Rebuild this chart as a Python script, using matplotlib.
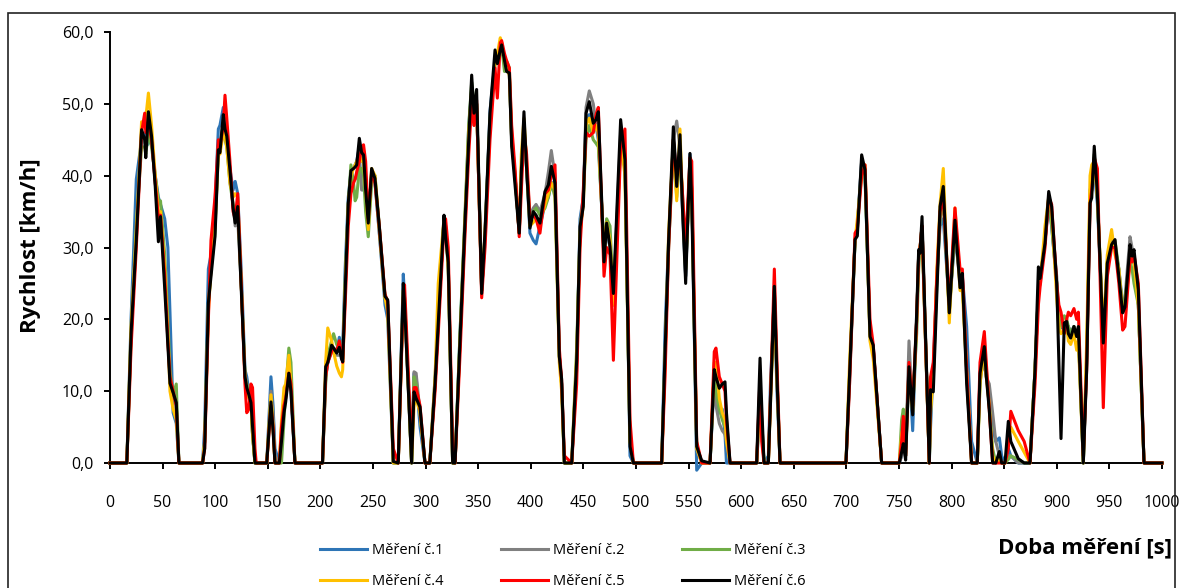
import matplotlib
matplotlib.use('Agg')
import matplotlib.pyplot as plt
from matplotlib.patches import Rectangle
from matplotlib.ticker import FuncFormatter, MultipleLocator

plt.rcParams['font.family'] = ['Open Sans', 'DejaVu Sans']

# breakpoints of the recorded speed traces [s]
time_s = [
    0, 16, 20, 25, 30, 33, 34, 36.5, 39.5, 43, 46, 48, 52, 55, 57, 60, 63, 65.5,
    88, 90, 93.5, 96, 99.8, 103, 104.5, 107.7, 109.3, 111, 114, 117, 119, 121.4, 125, 128.3, 130, 132, 134, 135.5, 137.8, 139,
    149, 153, 155, 156.8, 161, 163, 165.4, 167, 170, 172, 175.8,
    202, 205, 207, 210.7, 212.5, 215.5, 218, 220, 221.2, 223.5, 226.5, 229, 231.5, 233, 234.5, 237, 239.2, 241, 243, 245.5,
    248.7, 251.9, 256, 261.4, 264, 269.3, 274, 278.8, 280, 286.7, 289, 291, 294.7, 299.4,
    304, 309, 312, 317.5, 319, 321.5, 325.7, 328, 332.7, 337.5, 341, 343.8, 346, 348.5, 353.3, 356.5, 361.2, 366, 368.2, 371,
    372.3, 375, 377, 379.6, 381.8, 385, 389, 391, 393.5, 396, 399.2, 402.4, 405, 408.7, 413.5, 416.7, 419.5, 423, 427.1, 429.3, 431.9,
    438.9, 443.6, 446.8, 449.9, 452.5, 455.6, 459.4, 462, 464.2, 469.6, 472.1, 475.3, 478.5, 485.4, 489.5, 494.3, 497.5,
    524.4, 527.6, 531, 535.5, 538.7, 541.8, 544, 547.2, 551.3, 553, 557.7, 562.5, 570.4, 574.4, 576, 579.2, 582, 584.6, 586, 589.4,
    614.7, 617.9, 619.5, 621.7, 625.8, 628, 631.5, 634, 636.9,
    699.6, 703, 708.2, 710.4, 714.5, 717.7, 722.4, 725.5, 733.5,
    750.3, 752.5, 754.1, 756.3, 759.5, 763, 766.8, 768.7, 770, 771.9, 778.8, 780, 782.6, 786, 789, 792.1, 797.8, 803.2, 808, 810.2,
    814.3, 819, 824.4,
    827, 831.1, 833, 835.8, 839, 842, 845.4, 847.6, 850.8, 853.9, 856.3, 863.4, 869, 874.5,
    879.3, 882.5, 884.1, 888.8, 892.3, 895.1, 899.9, 902, 904, 907.1, 909.4, 911, 913.2, 916.3, 918.9, 920.5, 925.2, 928.4, 931.6, 933.2,
    935.6, 938.6, 944.2, 948, 952.1, 955.3, 959, 962.6, 964.8, 969.6, 971.5, 973.4, 977.5, 982.9, 1000,
]

# speeds [km/h] of the six runs
mereni_1 = [
    0, 0, 20, 39.5, 45, 46, 44, 44.5, 45, 40, 37, 36, 34, 30, 21, 7, 5.5, 0,
    0, 5, 27, 29, 36, 46.5, 47, 49.5, 46, 45, 41, 38, 39.2, 37.5, 26, 13, 12, 10, 9, 4, 0, 0,
    0, 12, 8, 2, 0, 3, 9, 10, 12.5, 10, 0,
    0, 12, 14, 15.5, 16, 15.5, 17.5, 16, 16, 27, 37, 40.5, 41, 41.5, 42, 44, 42, 42, 37, 33,
    40, 39, 32, 22, 20, 0, 0, 26.3, 23, 0, 12.5, 12, 5, 0,
    0, 12, 20, 34, 33, 27, 0, 0, 18, 34, 47, 52, 50, 50, 24, 31, 49, 56, 56.5, 57.5,
    57.5, 56, 55, 54, 45, 40, 32, 41, 47, 41, 32, 31, 30.5, 33, 36, 37, 39, 39, 15, 11, 0,
    0, 14, 34, 37, 48, 48.5, 46.5, 47, 45, 29, 32.5, 30, 22, 45, 43, 1, 0,
    0, 18.5, 31, 45, 40, 44, 36, 26, 43, 38, -1, 0, 0, 12, 9, 7, 7.5, 4, 0, 0,
    0, 8, 5, 0, 1, 12, 22, 10, 0,
    0, 12, 31, 33, 42, 40, 18, 16, 0,
    0, 1, 4, 1, 14, 4.5, 20, 29, 30, 33, 0, 5, 13.5, 26, 33, 34, 22, 31.5, 26, 26,
    19, 3, 0,
    12, 16, 12, 9, 5, 3, 3.5, 1, 0, 2, 1, 0, 0, 0,
    13, 24, 25, 31, 36, 33, 25, 20, 19, 18.5, 19, 19, 18, 19, 18, 18, 0, 15, 37, 38,
    41, 36, 17, 27, 31.5, 30, 27, 22, 22, 29, 28, 28, 22, 0, 0,
]
mereni_2 = [
    0, 0, 18, 33, 46, 45, 44, 47, 45, 39, 34, 35, 27, 18, 12, 9.5, 8, 0,
    0, 3, 22, 27, 33, 44, 44, 48, 46, 45, 40, 36, 33, 34, 24, 12.5, 11, 10, 9, 4, 0, 0,
    0, 10, 7, 1, 0, 3, 9, 10, 13, 11, 0,
    0, 12, 14, 16, 16, 15, 15, 15, 14.5, 25, 36, 40, 39.5, 39.5, 40, 43, 38, 38, 38, 34,
    40, 39, 32, 23, 22, 0, 0, 24, 22, 0, 12.7, 12.5, 7, 0,
    0, 11, 20, 34, 32, 28, 0, 0, 17, 33, 46, 52, 47, 50, 24, 32, 48, 56, 56, 58,
    58.5, 56, 55, 54, 45, 40, 32, 41, 47, 41, 34.5, 35.5, 36, 35, 37.5, 40.5, 43.5, 40, 15, 11, 0,
    0, 13, 33, 37, 49.5, 51.8, 50, 47, 45.5, 29, 33, 30, 23, 46, 42, 3, 0,
    0, 15, 30, 45, 47.6, 44, 37, 26, 42.5, 38, 2, 0, 0, 12, 8, 5.5, 4.5, 4, 3, 0,
    0, 10, 6, 0, 0, 10, 24, 12, 0,
    0, 11, 31, 33, 42, 41, 18, 16, 0,
    0, 1, 4, 1, 17, 7, 20, 29, 30, 33, 0, 8, 12, 26, 34, 37, 21, 32, 25, 26,
    12, 0, 0,
    12, 14, 12, 11, 7, 3, 1, 0, 0, 1, 1, 0, 0, 0,
    13, 24, 25.5, 31, 36.5, 34, 26, 20, 19, 19.5, 18.5, 19, 18, 19, 18, 18, 0, 14, 38, 39,
    42, 37, 17, 28, 31.5, 30.5, 26, 22, 23, 31.5, 30, 28, 22, 0, 0,
]
mereni_3 = [
    0, 0, 17, 33, 44, 44, 43, 46, 44, 40, 36.5, 36.5, 29, 20, 13, 9.5, 11, 0,
    0, 3, 22, 27, 32, 44, 44, 46, 45, 44, 39, 36, 35, 36, 24, 12, 11, 9.5, 8.5, 4, 0, 0,
    0, 9, 5, 0, 0, 0, 6, 10, 16, 14, 0,
    0, 11, 15, 17, 18, 16.5, 16, 15, 15, 25, 36, 41.5, 39, 36.5, 37, 41, 41, 40, 35, 31.5,
    39, 40, 33, 23, 22, 0, 0, 24, 23, 0, 12, 11, 7, 0,
    0, 11, 20, 34, 32, 28, 0, 0, 18, 35, 47, 53, 50, 50, 24, 32, 48, 55.5, 56, 57,
    58, 54.5, 56, 55, 46, 40, 32, 40, 47, 41, 33, 35, 35.5, 34.5, 35.5, 37, 39, 37, 15, 11, 0,
    0, 16, 32, 37, 45, 47, 45, 44.5, 44, 30, 34, 33, 23, 44, 41, 3, 0,
    0, 15, 30, 44, 37, 43, 38, 27, 41, 38, 2.5, 0, 0, 13, 10, 7.5, 6, 5, 4.5, 0,
    0, 11, 6, 0, 0, 10, 24, 12, 0,
    0, 12, 31, 33, 41, 40, 18, 16, 0,
    0, 6, 7.5, 3, 13, 8, 18, 27, 30, 32, 0, 8, 12, 25, 34, 36.5, 21, 33, 26, 25.5,
    13, 0, 0,
    11, 16.5, 13, 8, 2, 0, 0.5, 0, 0, 0.5, 1, 0.5, 0, 0,
    13, 24, 25.5, 31, 37, 33, 25, 20, 19, 20.5, 20, 19, 18, 19, 18, 18, 0, 14, 37, 39,
    43, 37, 17, 28, 30.5, 31, 27, 21, 23, 28, 27, 25, 22, 0, 0,
]
mereni_4 = [
    0, 0, 19, 32, 47.5, 47, 48, 51.5, 47, 40, 35, 35, 27, 18, 10, 7.5, 6, 0,
    0, 3, 21, 27, 33, 43, 43, 46, 45.5, 44, 39, 37, 37.5, 37, 24, 12, 10, 9, 8.5, 4, 0, 0,
    0, 9.5, 5, 0, 0, 6, 10.5, 11, 15, 11, 0,
    0, 14, 18.8, 17, 15.5, 13.5, 12.5, 12, 13, 24, 36, 40, 41, 41.5, 42, 43, 42, 42, 38, 32.5,
    41, 40, 32.5, 23, 21, 0, 0, 24, 23, 0, 8, 9, 7, 0,
    0, 12, 25, 34, 33, 27, 0, 0, 17, 34, 46, 52, 49, 50, 24, 32, 47, 56, 57, 59.2,
    58.5, 56, 55, 54, 45, 40, 32, 43, 48, 42, 33, 33.5, 34, 33.5, 36, 37.5, 39, 38, 14, 10, 0,
    0, 15, 32, 36, 47, 48, 46, 47, 46, 29, 33.5, 31, 22, 45, 40, 3, 0,
    0, 14, 32, 45, 36.5, 46.5, 37, 27, 42, 38, 2, 0, 0, 14, 14, 9, 7, 6, 3, 0,
    0, 9, 5, 0, 0, 9, 22, 12, 0,
    0, 14, 31, 34, 40, 41.5, 17, 14.5, 0,
    0, 4, 5, 1, 13, 7, 20, 29, 30, 33, 0, 7, 12, 27, 36, 41, 19.5, 35.5, 24, 24,
    13, 0, 0,
    11, 16, 12, 8, 1, 0, 0.5, 0, 0, 3, 5, 3, 1.5, 0,
    13, 24, 25, 33, 37, 35, 23, 19, 18, 18.5, 19, 17, 16.5, 18, 15.7, 17, 0, 17, 40, 41.5,
    42, 37, 18, 29, 32.5, 29, 27, 21, 22, 28, 28.5, 28, 22, 0, 0,
]
mereni_5 = [
    0, 0, 16, 30, 46, 48.7, 46, 47.5, 45, 39, 34, 34.5, 26, 17, 12, 10, 8, 0,
    0, 2, 20, 31, 37, 45, 44, 47, 51.2, 48, 42, 35, 34, 37.5, 24, 11, 7, 7.5, 11, 10.5, 2, 0,
    0, 8, 5, 0, 0, 5, 8, 9, 12.5, 11, 0,
    0, 12, 14, 15.5, 16, 15.5, 17, 15, 14, 22, 33, 37.5, 39, 39.5, 40.5, 42, 44, 44.3, 42, 34,
    40.5, 39, 33, 23.5, 22.5, 2, 0, 23, 24.8, 2, 10.5, 10.5, 8, 0,
    0, 10, 18, 33, 34, 30, 2, 0, 15, 32, 43, 50, 47, 50.5, 23, 30, 45, 55, 50.8, 58.5,
    58.8, 57, 56, 55, 47, 41, 31.5, 38, 46, 43, 34, 34.5, 34, 32, 37.5, 38, 40, 41.5, 16, 11.5, 1,
    0, 11, 30, 38, 46, 45.5, 46, 48.5, 49.5, 26, 30, 29, 14.3, 44, 46.5, 6, 0,
    0, 12, 30, 45, 40, 43, 38, 30, 42.5, 42, 3, 0, 0, 15.5, 16, 12, 11, 10, 6, 0,
    0, 12, 3, 0, 0, 10, 27, 14, 0,
    0, 11, 32, 32.5, 40, 41.5, 20, 16.5, 0,
    0, 3, 6.5, 1, 14, 8, 20, 29, 30, 33, 0, 12, 14, 26, 35, 37, 22, 35.5, 27, 27,
    13, 0, 0,
    14, 18.3, 14, 7.5, 0, 0, 0, 0, 0, 2, 7.2, 4.5, 3, 0,
    11, 22, 24.5, 30, 37, 36, 25, 22, 21, 18, 20, 21, 20.5, 21.5, 20, 21, 1, 13, 36, 38,
    42.5, 41, 7.7, 26, 30, 30, 25, 18.5, 19, 28.5, 28, 29, 25, 0, 0,
]
mereni_6 = [
    0, 0, 18, 31, 46.4, 45, 42.5, 48.9, 45.5, 38.5, 30.8, 34.3, 24.3, 16.5, 11.1, 9.8, 8.4, 0,
    0, 2, 22.3, 26, 31.5, 43.6, 43.2, 48.5, 46.5, 45.5, 40.8, 35.5, 33.4, 35.7, 23.4, 12, 10.5, 9.5, 8.4, 5, 0, 0,
    0, 8.5, 4.5, 0, 0, 3, 7, 8.5, 12.5, 10, 0,
    0, 13.4, 14, 16.4, 16, 15.3, 16.1, 14.5, 14.1, 23.7, 36.2, 40.7, 41, 41.2, 41.5, 45.2, 43.2, 42.9, 38, 33.4,
    41, 39.6, 32.9, 23.2, 22.7, 0.2, 0, 25, 22, 0, 9.9, 9, 7.8, 0,
    0, 11.1, 19.4, 34.5, 31.5, 27.9, 0, 0, 17.1, 33.8, 45, 54, 48.7, 52, 23.6, 32.4, 48.7, 57.5, 55.6, 57.5,
    58.2, 56, 54.5, 54.3, 44.1, 38.7, 32, 40.5, 48.9, 41, 32.7, 35, 34.5, 33.4, 37.8, 38.7, 41.3, 39, 14.8, 11.7, 0,
    0, 14.3, 32.9, 35.7, 48.7, 50.3, 47.3, 47.8, 48.9, 28, 33.4, 30.1, 23.6, 47.8, 42.2, 2.3, 0,
    0, 15.3, 31, 46.8, 38.5, 45.7, 36, 25, 43.1, 36, 2.3, 0.3, 0, 13, 12, 10.4, 11, 11.3, 7, 0,
    0, 14.6, 8, 0, 0, 9, 24.6, 12, 0,
    0, 12.3, 31.1, 31.6, 42.9, 40.8, 17.6, 16.4, 0,
    0, 1.5, 2.7, 0.4, 13.4, 6.7, 20.9, 29.7, 29.2, 34.3, 0, 10.2, 9.9, 23.6, 35.7, 38.5, 20.9, 33.8, 24.4, 26.4,
    11.1, 0, 0,
    12.5, 16.2, 12, 7.4, 0, 0, 1.6, 0, 0, 5.8, 3, 0.6, 0, 0,
    13, 27.3, 25.7, 30.6, 37.8, 35.7, 25, 14, 3.4, 19.5, 19.7, 18, 17.4, 19, 17.6, 19, 0, 13, 36.2, 36.9,
    44.1, 37.3, 16.7, 27.8, 30.4, 31.1, 26, 20.9, 21.7, 30.4, 28.8, 29.7, 24.1, 0, 0,
]

labels = ['Měření č.1', 'Měření č.2', 'Měření č.3', 'Měření č.4', 'Měření č.5', 'Měření č.6']
colors = ['#2E75B6', '#808080', '#70AD47', '#FFC000', '#FF0000', '#000000']
series = [mereni_1, mereni_2, mereni_3, mereni_4, mereni_5, mereni_6]

W, H = 1182, 588
fig = plt.figure(figsize=(W / 100, H / 100), dpi=100)

# chart frame
fig.add_artist(Rectangle((8 / W, -0.01), 1167 / W, 1 - 13 / H + 0.01,
                         transform=fig.transFigure, fill=False,
                         edgecolor='#222222', linewidth=1.2))

ax = fig.add_axes([110 / W, 1 - 463 / H, 1052 / W, 431 / H])

handles = []
for vals, lab, col in zip(series, labels, colors):
    ln, = ax.plot(time_s, vals, color=col, linewidth=2.2, label=lab,
                  clip_on=False, zorder=3, solid_joinstyle='round')
    handles.append(ln)

ax.set_xlim(0, 1000)
ax.set_ylim(0, 60)
ax.xaxis.set_major_locator(MultipleLocator(50))
ax.yaxis.set_major_locator(MultipleLocator(10))
ax.yaxis.set_major_formatter(FuncFormatter(lambda v, _: f"{v:.1f}".replace('.', ',')))

for side in ['top', 'right']:
    ax.spines[side].set_visible(False)
for side in ['left', 'bottom']:
    ax.spines[side].set_linewidth(1.4)
    ax.spines[side].set_zorder(2.5)

ax.tick_params(axis='y', direction='out', length=4, width=1.4, pad=8, labelsize=11.5)
ax.tick_params(axis='x', direction='out', length=4, width=1.4, pad=19, labelsize=11.5)

fig.text(31 / W, 1 - 246 / H, 'Rychlost [km/h]', rotation=90, ha='center', va='center',
         fontsize=16, fontweight='bold')
fig.text(1172 / W, 1 - 548 / H, 'Doba měření [s]', ha='right', va='center',
         fontsize=16, fontweight='bold')

# legend in rows: 1 2 3 / 4 5 6
order = [0, 3, 1, 4, 2, 5]
fig.legend([handles[i] for i in order], [labels[i] for i in order],
           loc='upper left', bbox_to_anchor=(320 / W, 1 - 543 / H), ncol=3,
           frameon=False, fontsize=10.5, handlelength=3.2, handletextpad=0.4,
           columnspacing=3.9, labelspacing=1.1, borderpad=0, borderaxespad=0)

fig.savefig('out.png', dpi=100)
